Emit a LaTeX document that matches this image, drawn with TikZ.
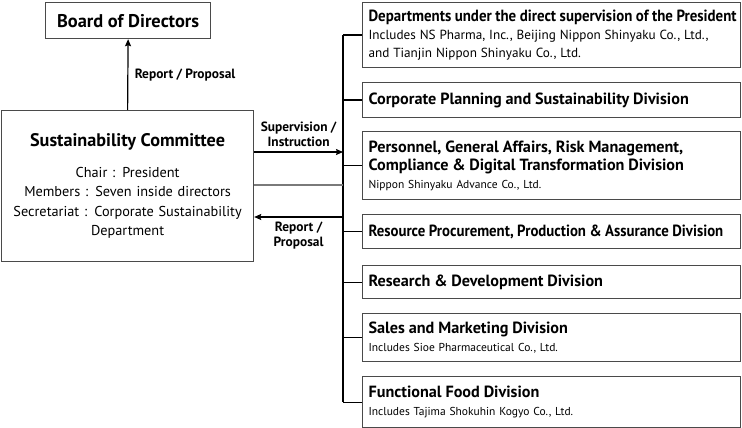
\documentclass[tikz,border=0pt]{standalone}
\usepackage{fontspec}
\setmainfont{PT Sans}
\usetikzlibrary{arrows,arrows.meta,positioning,calc}
\definecolor{boxgray}{HTML}{4A4A4A}
\definecolor{linkgray}{HTML}{7A7A7A}
\newcommand{\headfont}{\fontsize{16.2}{18}\selectfont\bfseries}
\newcommand{\notefont}{\fontsize{11.5}{18}\selectfont}
\newcommand{\squeeze}[2]{\scalebox{#1}[1]{#2}}
\begin{document}
\begin{tikzpicture}[x=1pt,y=-1pt,
  unit/.style={rectangle,draw=boxgray,line width=1.2pt,inner sep=0pt,anchor=north west},
  dept/.style={unit,minimum width=378pt,text width=366pt,inner xsep=6pt,align=left,
    font=\fontsize{11.5}{18}\selectfont},
  edge/.style={line width=1.2pt,->,>={Stealth[length=7pt,width=6pt,inset=1pt]}},
  link/.style={line width=1.2pt},
  tag/.style={font=\fontsize{13.4}{15}\selectfont\bfseries,align=center}]
\useasboundingbox (0,0) rectangle (742,428);

\node(board)[unit,minimum width=165pt,minimum height=36pt] at (45,2) {\fontsize{18.4}{20}\selectfont\bfseries Board of Directors};
\node(comm)[unit,minimum width=252pt,minimum height=151pt,text width=250pt,align=center,
  font=\fontsize{14.3}{19.5}\selectfont] at (1,110)
  {{\fontsize{18.2}{20}\selectfont\bfseries Sustainability Committee}\\[11pt]
   Chair : President\\
   Members : Seven inside directors\\
   Secretariat : Corporate Sustainability\\
   Department};

\node(d1)[dept,minimum height=65pt] at (362,2) {{\headfont\squeeze{0.92}{Departments under the direct supervision of the President}}\\[1pt]
  \fontsize{13.2}{17}\selectfont Includes NS Pharma, Inc., Beijing Nippon Shinyaku Co., Ltd.,\\ and Tianjin Nippon Shinyaku Co., Ltd.};
\node(d2)[dept,minimum height=35pt] at (362,82) {\headfont Corporate Planning and Sustainability Division};
\node(d3)[dept,minimum height=68pt] at (362,131) {{\headfont Personnel, General Affairs, Risk Management,\\ Compliance \& Digital Transformation Division}\\
  \notefont Nippon Shinyaku Advance Co., Ltd.};
\node(d4)[dept,minimum height=34pt] at (362,214) {\headfont\squeeze{0.915}{Resource Procurement, Production \& Assurance Division}};
\node(d5)[dept,minimum height=33pt] at (362,265) {\headfont Research \& Development Division};
\node(d6)[dept,minimum height=48pt] at (362,313) {{\headfont Sales and Marketing Division}\\
  \notefont Includes Sioe Pharmaceutical Co., Ltd.};
\node(d7)[dept,minimum height=51pt] at (362,376) {{\headfont Functional Food Division}\\
  \notefont Includes Tajima Shokuhin Kogyo Co., Ltd.};

\coordinate (bus) at (343,0);
\coordinate (sup) at (343,152);
\coordinate (mid) at (343,185);
\coordinate (rep) at (343,217);

%bus and branches
\draw [link] (bus |- d1.west) to (bus |- d7.west);
\foreach \d in {d1,d2,d3,d4,d5,d6,d7}
  \draw [link] (bus |- \d.west) to (\d.west);

\draw [edge] (comm.north) to node[tag,right=3pt]{Report / Proposal} (board.south);
\draw [edge] (comm.east |- sup) to node[tag,above=1pt]{Supervision /\\ Instruction} (sup);
\draw [link,draw=linkgray] (comm.east |- mid) to (mid);
\draw [edge] (rep) to node[tag,below=1pt]{Report /\\ Proposal} (comm.east |- rep);
\end{tikzpicture}
\end{document}
